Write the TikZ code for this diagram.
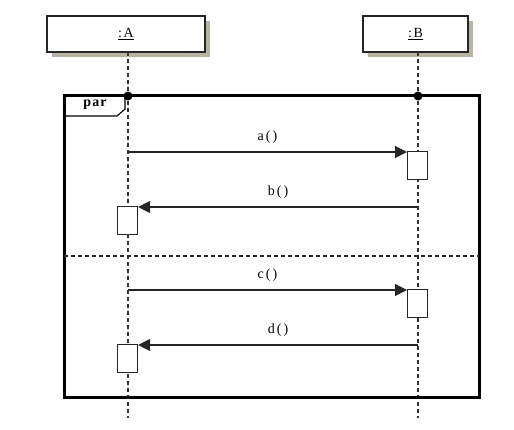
\documentclass[tikz,border=0pt]{standalone}
\usepackage{fontspec}
\setmainfont{Liberation Serif}
\usetikzlibrary{arrows.meta,calc}
\begin{document}
\begin{tikzpicture}[x=1pt,y=-1pt,
  objbox/.style={draw=black!85,line width=1.3pt,fill=white,minimum width=158pt,minimum height=36pt,inner sep=0pt,font=\fontsize{14}{15}\selectfont\addfontfeature{LetterSpace=12}},
  lifeline/.style={draw=black!80,line width=1.4pt,dash pattern=on 4pt off 3pt},
  actbox/.style={draw=black!85,line width=1.1pt,fill=white,minimum width=20pt,minimum height=28pt,inner sep=0pt,anchor=north west},
  msg/.style={draw=black!85,line width=1.1pt,-{Triangle[length=12pt,width=12pt]}},
  msglabel/.style={font=\fontsize{14}{15}\selectfont\addfontfeature{LetterSpace=15},inner sep=0pt},
  frame/.style={draw=black,line width=3pt},
  sep/.style={draw=black!85,line width=1.1pt,dash pattern=on 4pt off 3pt},
  gdot/.style={fill=cyan!18,draw=none}
]
\definecolor{shadowc}{HTML}{B8B4A4}
\useasboundingbox (0,0) rectangle (514,430);
% background dot grid
\foreach \x in {5,15,...,514}{\foreach \y in {5,15,...,430}{\fill[gdot] (\x,\y) circle (0.6pt);}}
\fill[white] (45,0) rectangle (503,418);
% shadows
\fill[shadowc] (52,21) rectangle (210,57);
\fill[shadowc] (368,21) rectangle (473,57);
% objects
\node[objbox] (A) at (126,34) {\underline{:A}};
\node[objbox,minimum width=105pt] (B) at (415.5,34) {\underline{:B}};
% lifeline ends
\coordinate (Aend) at (128,418);
\coordinate (Bend) at (418,418);
\draw[lifeline] (128,52) -- (Aend);
\draw[lifeline] (418,52) -- (Bend);
% frame
\draw[frame] (64,96) rectangle (479,397);
\node[font=\bfseries\fontsize{14}{15}\selectfont\addfontfeature{LetterSpace=8},inner sep=0pt] (par) at (95,105) {par};
\draw[black,line width=1.1pt] (64,116) -- (117,116) -- (125,109) -- (125,96);
\fill (128,96) circle (4.5pt);
\fill (418,96) circle (4.5pt);
\draw[sep] (64,256) -- (479,256);
% activations
\node[actbox] (bact1) at (407,151) {};
\node[actbox] (aact1) at (117,206) {};
\node[actbox] (bact2) at (407,289) {};
\node[actbox] (aact2) at (117,344) {};
% messages
\coordinate (ma) at (128,152);
\coordinate (mb) at (418,207);
\coordinate (mc) at (128,290);
\coordinate (md) at (418,345);
\draw[msg] (ma) -- (ma -| bact1.west) node[msglabel,midway,above=8pt] (la) {a()};
\draw[msg] (mb) -- (mb -| aact1.east) node[msglabel,midway,above=8pt] (lb) {b()};
\draw[msg] (mc) -- (mc -| bact2.west) node[msglabel,midway,above=8pt] (lc) {c()};
\draw[msg] (md) -- (md -| aact2.east) node[msglabel,midway,above=8pt] (ld) {d()};
\end{tikzpicture}
\end{document}
